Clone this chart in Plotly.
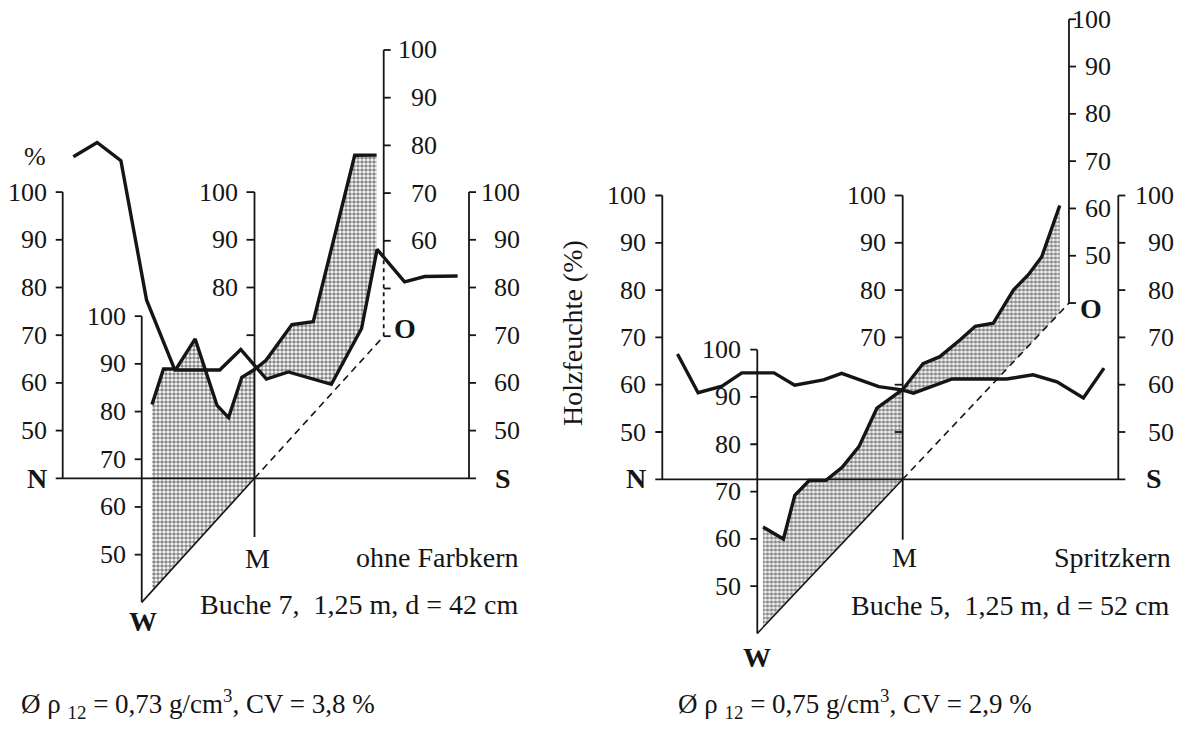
import numpy as np
import plotly.graph_objects as go

# ---------------- data ----------------
TICKS = [50, 60, 70, 80, 90, 100]
BASE = 40  # moisture value on each profile's base line

# Buche 7 (ohne Farbkern): wood moisture (%) across the stem.
# positions in cm from the pith; negative = north / west side
b7_ns_pos = [-19.8, -17.2, -14.6, -11.8, -8.7, -6.2, -3.8, -1.5, 0.2, 1.3,
             3.7, 8.4, 11.7, 13.4, 16.4, 18.6, 22.2]
b7_ns_val = [107.4, 110.4, 106.6, 77.4, 62.7, 62.7, 62.7, 67.0, 63.1, 60.8,
             62.3, 59.7, 71.4, 88.0, 81.2, 82.3, 82.4]
b7_wo_pos = [-17.8, -15.8, -13.6, -10.3, -6.5, -4.5, -2.2, 0.0, 2.0, 6.5,
             10.2, 17.4, 21.2]
b7_wo_val = [79.1, 83.9, 81.0, 82.9, 63.9, 58.7, 64.1, 62.8, 62.1, 63.6,
             59.3, 84.6, 79.6]

# Buche 5 (Spritzkern)
b5_ns_pos = [-27.3, -24.8, -21.9, -19.5, -15.6, -13.1, -9.6, -7.4, -2.9, -0.1,
             1.3, 2.9, 6.0, 12.6, 15.8, 18.7, 21.9, 24.4]
b5_ns_val = [66.5, 58.3, 59.7, 62.5, 62.5, 59.9, 61.0, 62.4, 59.6, 58.9,
             58.2, 59.2, 61.2, 61.2, 62.1, 60.6, 57.2, 63.5]
b5_wo_pos = [-23.3, -19.9, -18.0, -15.6, -12.8, -10.1, -7.3, -4.3, 0.0, 3.4,
             6.2, 9.6, 12.1, 15.1, 18.5, 21.0, 23.2, 26.2]
b5_wo_val = [61.2, 54.1, 60.8, 60.7, 57.0, 56.1, 56.7, 60.8, 59.0, 59.9,
             57.6, 56.6, 56.1, 52.7, 55.2, 55.1, 55.9, 62.7]

# ---------------- style ----------------
W, H = 1179, 735
FONT = "Liberation Serif"
INK = "#151515"
TICK_FS = 26
TEXT_FS = 28
TICK_LEN = 7
AX_W = 1.8
CURVE_W = 3.4
DASH = "7px,5px"
STIPPLE = dict(shape=".", fgcolor="#111111", bgcolor="white", size=4, solidity=0.62)

panels = [
    dict(xa="x", ya="y", xr=(0, 589.5), dom=(0.0, 0.5),
         xm=254.5, base_px=478.3, pxu=4.77, ns_scale=9.15, wo_scale=5.76, k=1.10,
         ns_axes=(62.7, 469.0), w_pos=-19.58, o_pos=22.43, m_low=27.7,
         ns_pos=b7_ns_pos, ns_val=b7_ns_val, wo_pos=b7_wo_pos, wo_val=b7_wo_val,
         m_ticks=[70, 80, 90, 100], m_labels=[80, 90, 100],
         o_labels=[60, 70, 80, 90, 100], right_shift=(53, 55)),
    dict(xa="x2", ya="y2", xr=(589.5, 1179), dom=(0.5, 1.0),
         xm=902.7, base_px=479.3, pxu=4.73, ns_scale=8.25, wo_scale=5.994, k=1.06,
         ns_axes=(662.3, 1118.3), w_pos=-24.26, o_pos=27.74, m_low=27.2,
         ns_pos=b5_ns_pos, ns_val=b5_ns_val, wo_pos=b5_wo_pos, wo_val=b5_wo_val,
         m_ticks=[50, 60, 70, 80, 90, 100], m_labels=[70, 80, 90, 100],
         o_labels=[50, 60, 70, 80, 90, 100], right_shift=(58, 44)),
]

fig = go.Figure()
annotations = []


def line(p, xs, ys, width=AX_W, dash=None):
    fig.add_trace(go.Scatter(x=xs, y=ys, mode="lines", xaxis=p["xa"], yaxis=p["ya"],
                             line=dict(color=INK, width=width, dash=dash),
                             hoverinfo="skip", showlegend=False))


def poly(p, xs, ys, pattern=None):
    kw = dict(fillpattern=pattern, fillcolor="white") if pattern else dict(fillcolor="white")
    fig.add_trace(go.Scatter(x=xs, y=ys, mode="lines", fill="toself", xaxis=p["xa"], yaxis=p["ya"],
                             line=dict(color="rgba(0,0,0,0)", width=0),
                             hoverinfo="skip", showlegend=False, **kw))


def label(p, x, y, text, shift):
    annotations.append(dict(x=x, y=y, xref=p["xa"], yref=p["ya"], text=str(text), showarrow=False,
                            xanchor="right", yanchor="middle", xshift=shift,
                            font=dict(family=FONT, size=TICK_FS, color=INK)))


def vaxis(p, x, y_of, lo, ticks, labels, side, shift):
    """vertical value scale at drawing position x; y_of maps a value to plot y"""
    line(p, [x, x], [y_of(lo), y_of(100)])
    sgn = -1 if side == "left" else 1
    tx, ty = [], []
    for t in ticks:
        tx += [x, x + sgn * TICK_LEN, None]
        ty += [y_of(t), y_of(t), None]
    line(p, tx, ty)
    for t in labels:
        label(p, x, y_of(t), t, shift)


for p in panels:
    xm = p["xm"]
    ns_x = np.array(p["ns_pos"]) * p["ns_scale"] + xm
    ns_y = np.array(p["ns_val"], float)
    wo_pos = np.array(p["wo_pos"], float)
    wo_x = wo_pos * p["wo_scale"] + xm
    kpct = p["k"] * p["wo_scale"] / p["pxu"]          # rise of the W-O base line per cm
    wo_off = lambda pos: kpct * pos
    wo_y = np.array(p["wo_val"]) + wo_off(wo_pos)
    wo_base = BASE + wo_off(wo_pos)

    back = wo_pos >= 0
    front = wo_pos <= 0

    # rear half (M -> O) of the W-O profile, stippled down to its base line
    bx = list(wo_x[back]) + [wo_x[back][-1], xm]
    by = list(wo_y[back]) + [wo_base[back][-1], BASE]
    poly(p, bx, by, STIPPLE)

    # N-S profile plane covers whatever lies behind it
    poly(p, [ns_x[0]] + list(ns_x) + [ns_x[-1]], [BASE] + list(ns_y) + [BASE])

    # front half (W -> M), stippled
    poly(p, [wo_x[front][0]] + list(wo_x[front]) + [xm],
         [wo_base[front][0]] + list(wo_y[front]) + [BASE], STIPPLE)

    # W-O base line: solid in front of the N-S plane, dashed behind it
    xw = xm + p["w_pos"] * p["wo_scale"]
    xo = xm + p["o_pos"] * p["wo_scale"]
    line(p, [xw, xm], [BASE + wo_off(p["w_pos"]), BASE], width=1.6)
    line(p, [xm, xo], [BASE, BASE + wo_off(p["o_pos"])], width=1.6, dash=DASH)

    # N-S base line
    line(p, [p["ns_axes"][0] - TICK_LEN, p["ns_axes"][1] + TICK_LEN], [BASE, BASE], width=AX_W)

    # N-S scales
    ident = lambda v: v
    vaxis(p, p["ns_axes"][0], ident, BASE, TICKS, TICKS, "left", -14)
    vaxis(p, p["ns_axes"][1], ident, BASE, TICKS, TICKS, "right", p["right_shift"][0])
    # pith axis
    line(p, [xm, xm], [p["m_low"], 100])
    mt_x, mt_y = [], []
    for t in p["m_ticks"]:
        mt_x += [xm - TICK_LEN - 1, xm, None]
        mt_y += [t, t, None]
    line(p, mt_x, mt_y)
    for t in p["m_labels"]:
        label(p, xm, t, t, -15)

    # W scale (front)
    off_w = wo_off(p["w_pos"])
    vaxis(p, xw, lambda v: v + off_w, BASE, TICKS, TICKS, "left", -14)

    # O scale (rear): hidden below the N-S profile -> dashed there
    off_o = wo_off(p["o_pos"])
    y_cut = float(np.interp(xo, ns_x, ns_y))
    y_lo, y_hi = BASE + off_o, 100 + off_o
    if y_cut > y_lo:
        line(p, [xo, xo], [y_lo, min(y_cut, y_hi)], dash="4px,4px")
        line(p, [xo, xo], [min(y_cut, y_hi), y_hi])
    else:
        line(p, [xo, xo], [y_lo, y_hi])
    ot_x, ot_y = [], []
    for t in [BASE] + TICKS:
        ot_x += [xo, xo + TICK_LEN, None]
        ot_y += [t + off_o, t + off_o, None]
    line(p, ot_x, ot_y)
    for t in p["o_labels"]:
        label(p, xo, t + off_o, t, p["right_shift"][1])

    # profile curves
    line(p, list(wo_x), list(wo_y), width=CURVE_W)
    line(p, list(ns_x), list(ns_y), width=CURVE_W)


def paper_text(xpx, ypx, text, anchor="center", size=TEXT_FS, bold=False, angle=0):
    annotations.append(dict(x=xpx / W, y=1 - ypx / H, xref="paper", yref="paper",
                            text=f"<b>{text}</b>" if bold else text, showarrow=False,
                            xanchor=anchor, yanchor="middle", textangle=angle,
                            font=dict(family=FONT, size=size, color=INK)))


# left panel texts
paper_text(35, 157, "%", size=TICK_FS)
paper_text(37, 478, "N", bold=True)
paper_text(503, 478, "S", bold=True)
paper_text(257, 558, "M")
paper_text(143, 621, "W", bold=True)
paper_text(405, 328, "O", bold=True)
paper_text(521, 557, "ohne Farbkern", anchor="right")
paper_text(521, 604, "Buche 7, \u00a01,25 m, d = 42 cm", anchor="right")
paper_text(19, 704, "Ø ρ <sub>12</sub> = 0,73 g/cm<sup>3</sup>, CV = 3,8 %", anchor="left", size=27)

# right panel texts
paper_text(572, 333, "Holzfeuchte (%)", size=TEXT_FS, angle=-90)
paper_text(636, 478, "N", bold=True)
paper_text(1154, 478, "S", bold=True)
paper_text(904, 557, "M")
paper_text(757, 657, "W", bold=True)
paper_text(1091, 309, "O", bold=True)
paper_text(1173, 557, "Spritzkern", anchor="right")
paper_text(1172, 605, "Buche 5, \u00a01,25 m, d = 52 cm", anchor="right")
paper_text(676, 704, "Ø ρ <sub>12</sub> = 0,75 g/cm<sup>3</sup>, CV = 2,9 %", anchor="left", size=27)

layout = dict(width=W, height=H, margin=dict(l=0, r=0, t=0, b=0),
              paper_bgcolor="white", plot_bgcolor="white", showlegend=False,
              annotations=annotations)
for i, p in enumerate(panels):
    sfx = "" if i == 0 else "2"
    ytop = BASE + p["base_px"] / p["pxu"]
    ybot = BASE - (H - p["base_px"]) / p["pxu"]
    layout["xaxis" + sfx] = dict(domain=list(p["dom"]), range=list(p["xr"]), visible=False,
                                 anchor="y" + sfx)
    layout["yaxis" + sfx] = dict(domain=[0, 1], range=[ybot, ytop], visible=False,
                                 anchor="x" + sfx)
fig.update_layout(**layout)
fig.write_html("out.html")
